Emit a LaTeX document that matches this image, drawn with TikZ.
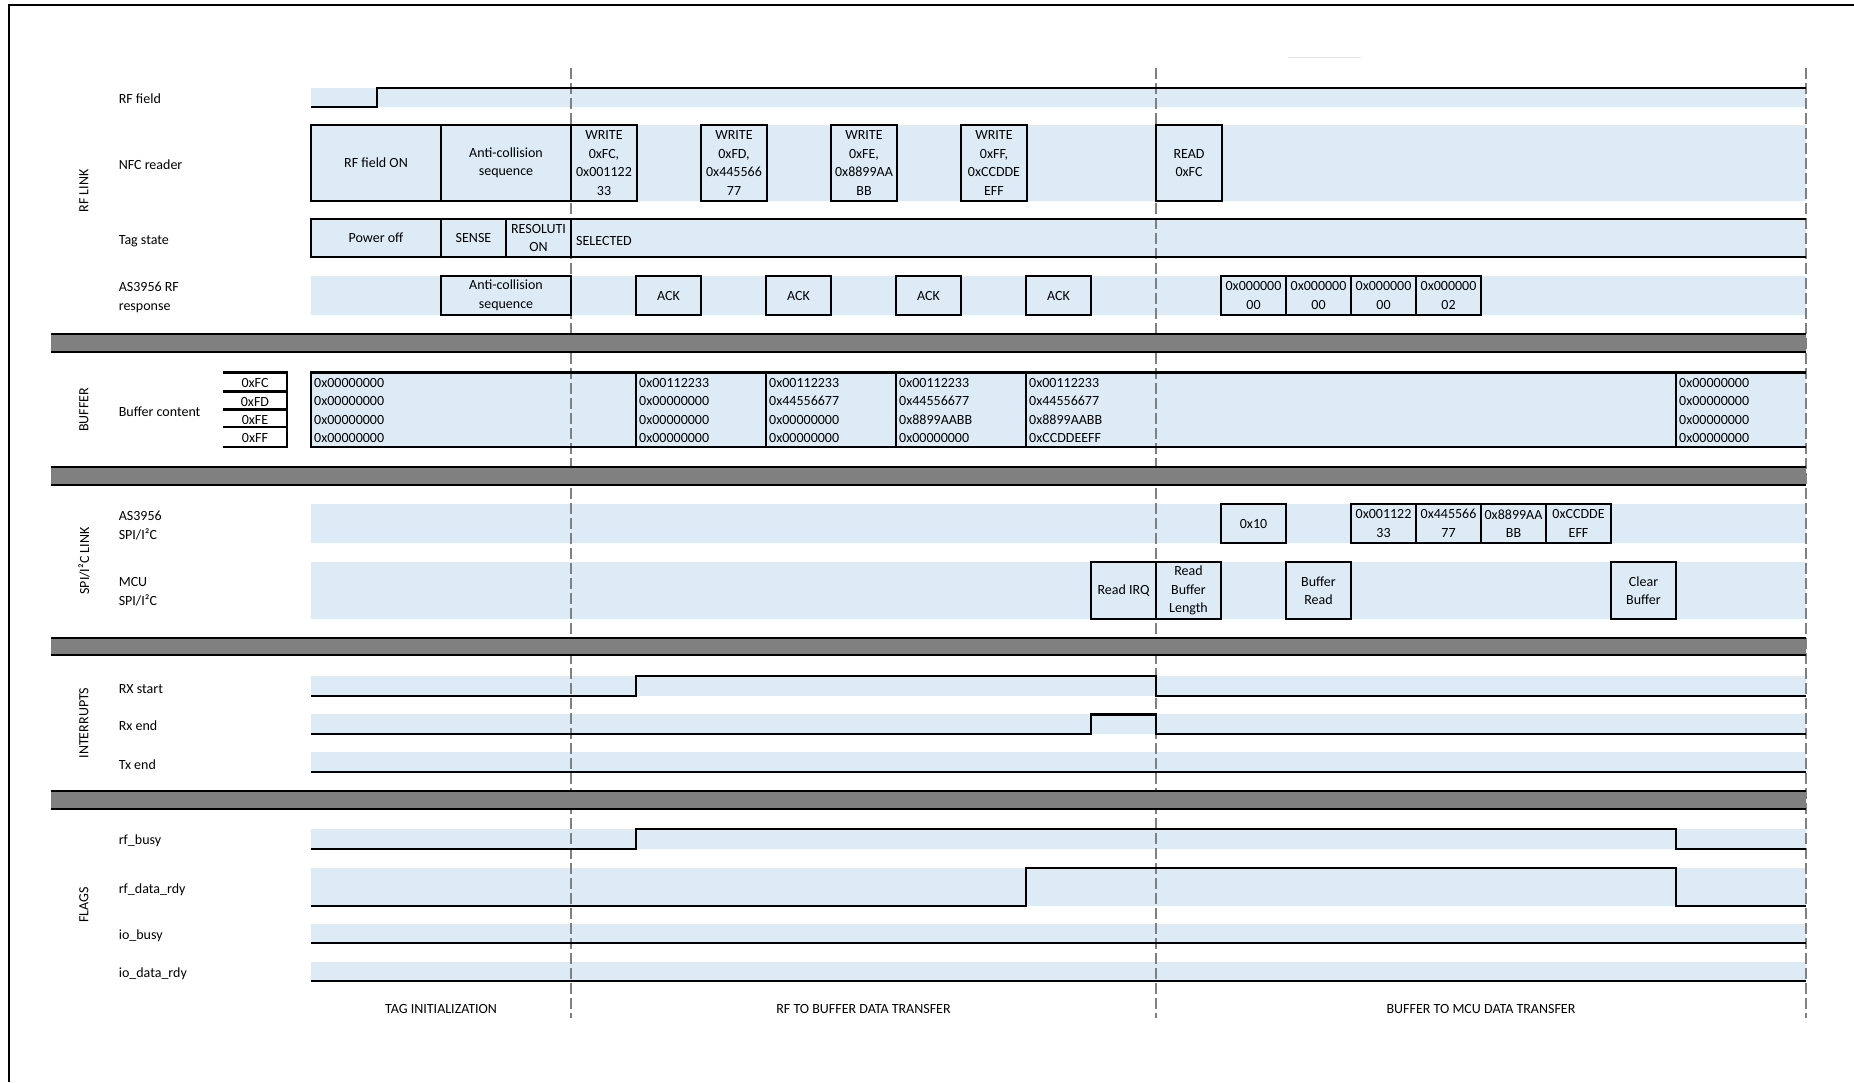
\documentclass[tikz,border=0pt]{standalone}
\usepackage{fontspec}
\setmainfont{Carlito}
\definecolor{lb}{HTML}{DDEBF7}
\definecolor{gbar}{HTML}{808080}
\newcommand\fs{\fontsize{14}{18.5}\selectfont}
\newcommand\mybox[6]{\node[bx, minimum width={#4-#2}, minimum height={#5-#3}] (#1) at ({(#2+#4)/2},{(#3+#5)/2}) {#6};}
\newcommand\rowfill[2]{\fill[lb] (311,#1) rectangle (1806,#2);}
\begin{document}
\begin{tikzpicture}[x=1pt,y=-1pt,
  sig/.style={line width=2.6pt, line join=miter},
  bx/.style={draw, line width=2.6pt, fill=lb, inner sep=0pt, align=center, font=\fs},
  lbl/.style={anchor=west, inner sep=0pt, align=left, font=\fs, yshift=-1.8pt},
  buf/.style={anchor=west, inner sep=0pt, align=left, font=\fontsize{14}{18.2}\selectfont, yshift=-0.5pt},
  grp/.style={rotate=90, inner sep=0pt, font=\fs},
  ctr/.style={inner sep=0pt, font=\fs, yshift=-1.2pt},
  phase/.style={dash pattern=on 11pt off 4pt, draw=gbar, line width=2.5pt}]
\useasboundingbox (0,0) rectangle (1854,1082);
% frame
\draw[line width=2pt] (9,1082) -- (9,5) -- (1854,5);
\draw[line width=1pt, black!10] (1288,57) -- (1361,57);

% ---------- row fills ----------
\rowfill{87.5}{107}
\rowfill{125}{201}
\rowfill{219}{257}
\rowfill{276}{315}
\rowfill{372.5}{447}
\rowfill{504}{543}
\rowfill{562}{619}
\rowfill{676}{696}
\rowfill{714}{734}
\rowfill{752}{772}
\rowfill{829}{849}
\rowfill{868}{906}
\rowfill{924}{943}
\rowfill{962}{981}

% ---------- phase dashed lines ----------
\coordinate (p1t) at (571,68);  \coordinate (p1b) at (571,1018);
\coordinate (p2t) at (1156,68); \coordinate (p2b) at (1156,1018);
\coordinate (p3t) at (1806,68); \coordinate (p3b) at (1806,1018);
\draw[phase] (p1t) -- (p1b);
\draw[phase] (p2t) -- (p2b);
\draw[phase] (p3t) -- (p3b);

% ---------- gray separator bars ----------
\foreach \a/\b in {333/353, 466/486, 637/656, 790/810}{
  \fill[gbar] (51,\a) rectangle (1806,\b);
  \draw[sig] (51,\a+1) -- (1806,\a+1);
  \draw[sig] (51,\b-1) -- (1806,\b-1);
}

% ---------- group labels ----------
\node[grp] (gRF)  at (84,191) {RF LINK};
\node[grp] (gBUF) at (84,410) {BUFFER};
\node[grp] (gSPI) at (84,561) {SPI/I²C LINK};
\node[grp] (gINT) at (84,723) {INTERRUPTS};
\node[grp] (gFLG) at (84,905) {FLAGS};

% ---------- row labels ----------
\node[lbl] (lRF)   at (118.6,97)  {RF field};
\node[lbl] (lNFC)  at (118.6,163) {NFC reader};
\node[lbl] (lTag)  at (118.6,239) {Tag state};
\node[lbl] (lResp) at (118.6,295.5) {AS3956 RF\\response};
\node[lbl] (lBuf)  at (118.6,410) {Buffer content};
\node[lbl] (lAS)   at (118.6,524) {AS3956\\SPI/I²C};
\node[lbl] (lMCU)  at (118.6,590) {MCU\\SPI/I²C};
\node[lbl] (lRXs)  at (118.6,687) {RX start};
\node[lbl] (lRXe)  at (118.6,724) {Rx end};
\node[lbl] (lTXe)  at (118.6,763) {Tx end};
\node[lbl] (lrfb)  at (118.6,839) {rf\_busy};
\node[lbl] (lrfd)  at (118.6,888) {rf\_data\_rdy};
\node[lbl] (liob)  at (118.6,934) {io\_busy};
\node[lbl] (liod)  at (118.6,972) {io\_data\_rdy};

% ---------- RF field ----------
\draw[sig] (311,107) -- (377,107) -- (377,88) -- (1806,88);

% ---------- NFC reader ----------
\mybox{rfon}{311}{125}{441}{201}{RF field ON}
\mybox{acs}{441}{125}{571}{201}{Anti-collision\\sequence}
\mybox{w1}{571}{125}{637}{201}{WRITE\\0xFC,\\0x001122\\33}
\mybox{w2}{701}{125}{767}{201}{WRITE\\0xFD,\\0x445566\\77}
\mybox{w3}{831}{125}{897}{201}{WRITE\\0xFE,\\0x8899AA\\BB}
\mybox{w4}{961}{125}{1027}{201}{WRITE\\0xFF,\\0xCCDDE\\EFF}
\mybox{rd}{1156}{125}{1222}{201}{READ\\0xFC}

% ---------- Tag state ----------
\draw[sig] (1806,219) -- (311,219) -- (311,257) -- (1806,257);
\mybox{poff}{311}{219}{441}{257}{Power off}
\mybox{sense}{441}{219}{506}{257}{SENSE}
\mybox{resol}{506}{219}{571}{257}{RESOLUTI\\ON}
\node[lbl] (sel) at (576,239) {SELECTED};

% ---------- AS3956 RF response ----------
\mybox{ac2}{441}{276}{571}{315}{Anti-collision\\sequence}
\mybox{ack1}{636}{276}{701}{315}{ACK}
\mybox{ack2}{766}{276}{831}{315}{ACK}
\mybox{ack3}{896}{276}{961}{315}{ACK}
\mybox{ack4}{1026}{276}{1091}{315}{ACK}
\mybox{r1}{1221}{276}{1286}{315}{0x000000\\00}
\mybox{r2}{1286}{276}{1351}{315}{0x000000\\00}
\mybox{r3}{1351}{276}{1416}{315}{0x000000\\00}
\mybox{r4}{1416}{276}{1481}{315}{0x000000\\02}

% ---------- Buffer ----------
\draw[line width=2.4pt] (223,372.5) -- (287,372.5) -- (287,447) -- (223,447);
\draw[line width=2.4pt] (223,391.5) -- (287,391.5) (223,409.5) -- (287,409.5) (223,427) -- (287,427);
\node[ctr] (aFC) at (255,382) {0xFC};
\node[ctr] (aFD) at (255,400.5) {0xFD};
\node[ctr] (aFE) at (255,418.5) {0xFE};
\node[ctr] (aFF) at (255,437) {0xFF};
\draw[sig] (1806,372.5) -- (311,372.5) -- (311,447) -- (1806,447);
\foreach \x in {636,766,896,1026,1676}{\draw[sig] (\x,372.5) -- (\x,447);}
\node[buf] (bc1) at (314,410) {0x00000000\\0x00000000\\0x00000000\\0x00000000};
\node[buf] (bc2) at (639,410) {0x00112233\\0x00000000\\0x00000000\\0x00000000};
\node[buf] (bc3) at (769,410) {0x00112233\\0x44556677\\0x00000000\\0x00000000};
\node[buf] (bc4) at (899,410) {0x00112233\\0x44556677\\0x8899AABB\\0x00000000};
\node[buf] (bc5) at (1029,410) {0x00112233\\0x44556677\\0x8899AABB\\0xCCDDEEFF};
\node[buf] (bc6) at (1679,410) {0x00000000\\0x00000000\\0x00000000\\0x00000000};

% ---------- SPI / I2C ----------
\mybox{x10}{1221}{504}{1286}{543}{0x10}
\mybox{d1}{1351}{504}{1416}{543}{0x001122\\33}
\mybox{d2}{1416}{504}{1481}{543}{0x445566\\77}
\mybox{d3}{1481}{504}{1546}{543}{0x8899AA\\BB}
\mybox{d4}{1546}{504}{1611}{543}{0xCCDDE\\EFF}
\mybox{rirq}{1091}{562}{1156}{619}{Read IRQ}
\mybox{rbl}{1156}{562}{1221}{619}{Read\\Buffer\\Length}
\mybox{bread}{1286}{562}{1351}{619}{Buffer\\Read}
\mybox{clr}{1611}{562}{1676}{619}{Clear\\Buffer}

% ---------- Interrupts ----------
\draw[sig] (311,696) -- (636,696) -- (636,676) -- (1156,676) -- (1156,696) -- (1806,696);
\draw[sig] (311,734) -- (1091,734) -- (1091,714.5) -- (1156,714.5) -- (1156,734) -- (1806,734);
\draw[sig] (311,772) -- (1806,772);

% ---------- Flags ----------
\draw[sig] (311,849) -- (636,849) -- (636,829) -- (1676,829) -- (1676,849) -- (1806,849);
\draw[sig] (311,906) -- (1026,906) -- (1026,868) -- (1676,868) -- (1676,906) -- (1806,906);
\draw[sig] (311,943) -- (1806,943);
\draw[sig] (311,981) -- (1806,981);

% ---------- phase labels ----------
\node[ctr] (ph1) at (441,1008)    {TAG INITIALIZATION};
\node[ctr] (ph2) at (863.5,1008)  {RF TO BUFFER DATA TRANSFER};
\node[ctr] (ph3) at (1481,1008)   {BUFFER TO MCU DATA TRANSFER};
\end{tikzpicture}
\end{document}
